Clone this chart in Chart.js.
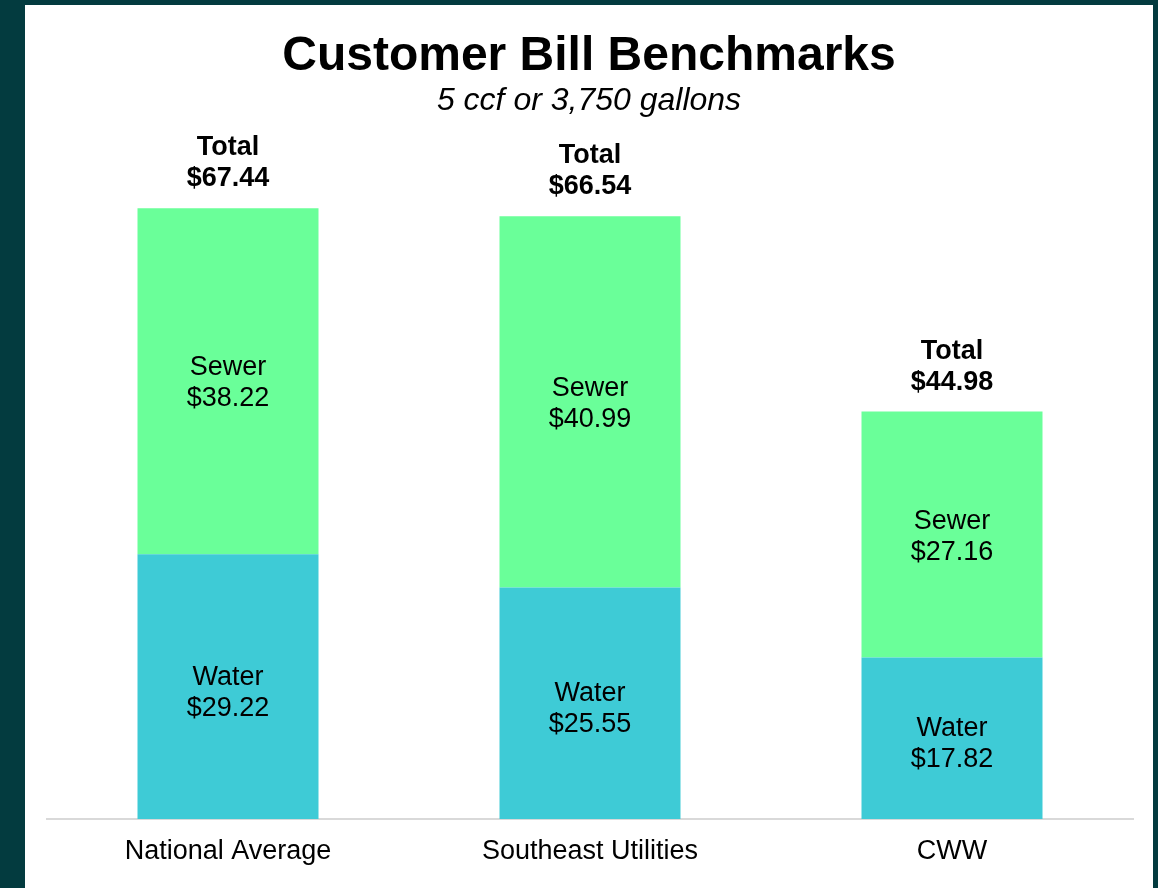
<!DOCTYPE html>
<html>
<head>
<meta charset="utf-8">
<script src="https://cdn.jsdelivr.net/npm/chart.js@4/dist/chart.umd.min.js"></script>
<style>
  html, body { margin: 0; padding: 0; background: #033b3f; width: 1158px; height: 888px; overflow: hidden; }
  #frame { position: absolute; left: 25px; top: 5px; width: 1128px; height: 883px; background: #ffffff; }
  canvas { display: block; }
</style>
</head>
<body>
<div id="frame"><canvas id="c" width="1128" height="883"></canvas></div>
<script>
const categories = ['National Average', 'Southeast Utilities', 'CWW'];
const water = [29.22, 25.55, 17.82];
const sewer = [38.22, 40.99, 27.16];
const seriesNames = ['Water', 'Sewer'];
const titleText = 'Customer Bill Benchmarks';
const subtitleText = '5 ccf or 3,750 gallons';

const FONT = "'Liberation Sans', Arial, Helvetica, sans-serif";
const fmt = v => '$' + v.toFixed(2);

const labelPlugin = {
  id: 'labels',
  afterDatasetsDraw(chart) {
    const ctx = chart.ctx;
    const y = chart.scales.y;
    ctx.save();
    ctx.fillStyle = '#000000';
    ctx.textAlign = 'center';
    ctx.textBaseline = 'alphabetic';
    const cx = chart.width / 2;
    ctx.font = 'bold 48px ' + FONT;
    ctx.fillText(titleText, cx, 65);
    ctx.font = 'italic 32px ' + FONT;
    ctx.fillText(subtitleText, cx, 105);
    ctx.font = '27px ' + FONT;
    chart.data.datasets.forEach((ds, di) => {
      const meta = chart.getDatasetMeta(di);
      meta.data.forEach((bar, i) => {
        const mid = (bar.y + bar.base) / 2;
        const shift = di === 0 ? 4 : 0;
        ctx.fillText(seriesNames[di], bar.x, mid - 6 + shift);
        ctx.fillText(fmt(ds.data[i]), bar.x, mid + 25 + shift);
      });
    });
    ctx.font = 'bold 27px ' + FONT;
    const meta1 = chart.getDatasetMeta(1);
    meta1.data.forEach((bar, i) => {
      const total = water[i] + sewer[i];
      const topPx = y.getPixelForValue(total);
      ctx.fillText('Total', bar.x, topPx - 53);
      ctx.fillText(fmt(total), bar.x, topPx - 22);
    });
    ctx.restore();
  }
};

new Chart(document.getElementById('c'), {
  type: 'bar',
  data: {
    labels: categories,
    datasets: [
      { label: seriesNames[0], data: water, backgroundColor: '#3ecbd6', borderWidth: 0 },
      { label: seriesNames[1], data: sewer, backgroundColor: '#6aff99', borderWidth: 0 }
    ]
  },
  options: {
    responsive: false,
    animation: false,
    layout: { padding: { top: 180, left: 22, right: 20, bottom: 20 } },
    datasets: { bar: { barPercentage: 0.5, categoryPercentage: 1.0 } },
    plugins: { legend: { display: false }, tooltip: { enabled: false }, title: { display: false } },
    scales: {
      x: {
        stacked: true,
        grid: { display: false, drawTicks: false },
        border: { display: true, color: '#d9d9d9', width: 2 },
        ticks: { color: '#000000', font: { family: FONT, size: 27 }, padding: 16 },
        afterFit: s => { s.height = 49; }
      },
      y: {
        stacked: true, display: false, min: 0, max: 70
      }
    }
  },
  plugins: [labelPlugin]
});
</script>
</body>
</html>
